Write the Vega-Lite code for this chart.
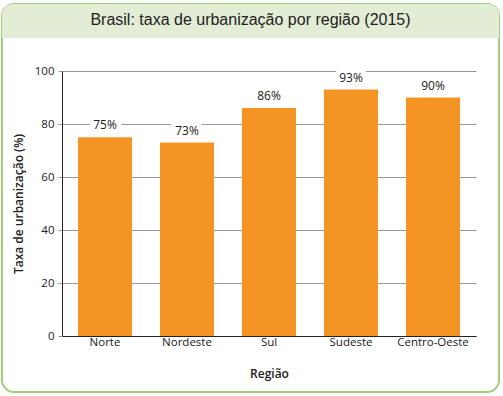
{
  "$schema": "https://vega.github.io/schema/vega-lite/v6.json",
  "width": 497,
  "height": 388,
  "autosize": "none",
  "padding": {"left": 2, "top": 4, "right": 4, "bottom": 4},
  "background": "white",
  "config": {
    "view": {"fill": "white", "stroke": "#a3cf7a", "strokeWidth": 2, "cornerRadius": 12},
    "font": "Open Sans"
  },
  "data": {
    "values": [
      {"regiao": "Norte", "taxa": 75, "rotulo": "75%"},
      {"regiao": "Nordeste", "taxa": 73, "rotulo": "73%"},
      {"regiao": "Sul", "taxa": 86, "rotulo": "86%"},
      {"regiao": "Sudeste", "taxa": 93, "rotulo": "93%"},
      {"regiao": "Centro-Oeste", "taxa": 90, "rotulo": "90%"}
    ]
  },
  "layer": [
    {
      "data": {"values": [{"t": "band"}]},
      "mark": {"type": "rect", "fill": "#e3ecd5", "cornerRadiusTopLeft": 11, "cornerRadiusTopRight": 11},
      "encoding": {
        "y": {"datum": 125.3, "type": "quantitative"},
        "y2": {"datum": 112.45}
      }
    },
    {
      "data": {"values": [{"t": "Brasil: taxa de urbanização por região (2015)"}]},
      "mark": {"type": "text", "font": "Liberation Sans", "fontSize": 16, "color": "#222222", "baseline": "middle", "align": "center"},
      "encoding": {
        "y": {"datum": 119.1, "type": "quantitative"},
        "text": {"field": "t"}
      }
    },
    {
      "mark": {"type": "text", "baseline": "bottom", "dy": -5, "fontSize": 12, "stroke": "white", "strokeWidth": 10, "strokeJoin": "round", "fill": "white"},
      "encoding": {
        "x": {"field": "regiao", "type": "nominal", "sort": null},
        "y": {"field": "taxa", "type": "quantitative"},
        "text": {"field": "rotulo"}
      }
    },
    {
      "mark": {"type": "bar", "color": "#f39424"},
      "encoding": {
        "x": {
          "field": "regiao", "type": "nominal", "sort": null,
          "scale": {"range": [60, 474], "paddingInner": 0.341, "paddingOuter": 0.195},
          "axis": {
            "orient": "bottom", "offset": -56, "ticks": false, "labelPadding": 6,
            "labelFontSize": 11.5, "labelColor": "#222222", "labelAngle": 0, "labelAlign": "center",
            "domainColor": "#222222", "title": "Região", "titleFontSize": 12,
            "titleFontWeight": 600, "titleColor": "#222222", "titleY": 37, "titleBaseline": "middle"
          }
        },
        "y": {
          "field": "taxa", "type": "quantitative",
          "scale": {"domain": [0, 100], "range": [332, 67]},
          "axis": {
            "orient": "left", "offset": -60, "values": [0, 20, 40, 60, 80, 100], "grid": true,
            "tickColor": "#999999", "tickSize": 4, "labelPadding": 4,
            "labelFontSize": 11.5, "labelColor": "#222222", "gridColor": "#999999",
            "domainColor": "#222222", "title": "Taxa de urbanização (%)",
            "titleFontSize": 12, "titleFontWeight": 600, "titleColor": "#222222",
            "titleX": -44, "titleBaseline": "middle"
          }
        }
      }
    },
    {
      "mark": {"type": "text", "baseline": "bottom", "dy": -5, "fontSize": 12, "color": "#222222"},
      "encoding": {
        "x": {"field": "regiao", "type": "nominal", "sort": null},
        "y": {"field": "taxa", "type": "quantitative"},
        "text": {"field": "rotulo"}
      }
    }
  ]
}
